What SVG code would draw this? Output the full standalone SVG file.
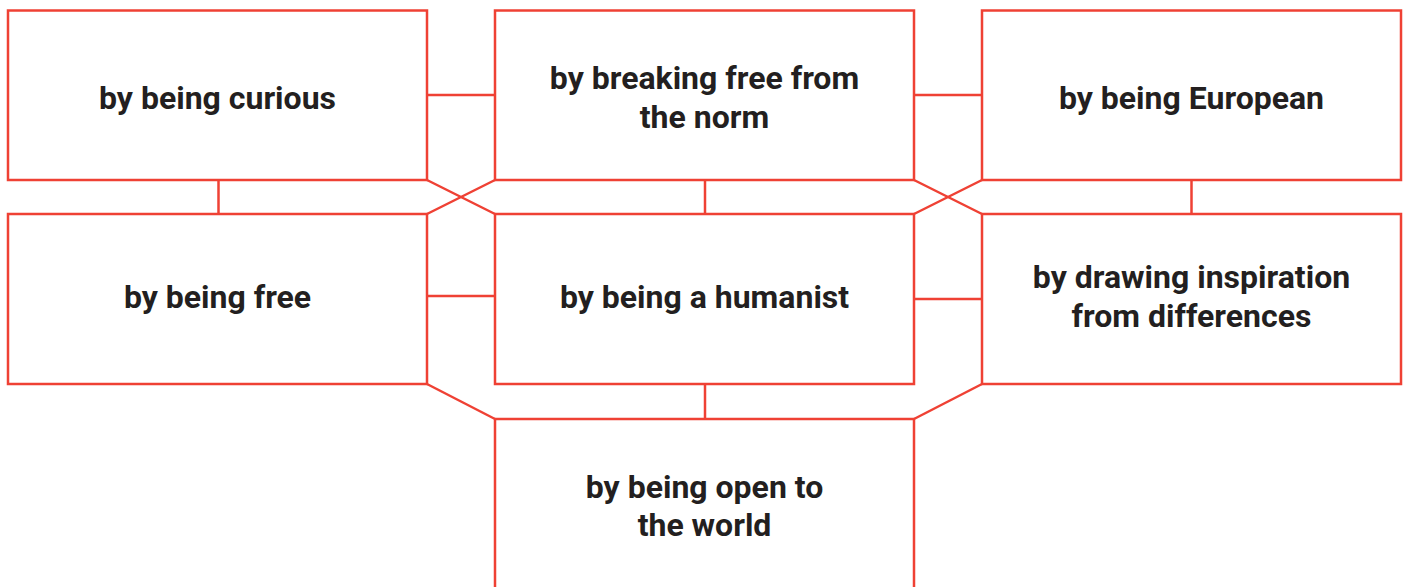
<svg xmlns="http://www.w3.org/2000/svg" width="1409" height="587" viewBox="0 0 1409 587">
  <style>
    .box { fill: #ffffff; stroke: #ef4134; stroke-width: 2.5; }
    .link { fill: none; stroke: #ef4134; stroke-width: 2.5; }
    .label { font-family: Roboto, "Liberation Sans", sans-serif; font-weight: 700; font-size: 32px; fill: #231f20; text-anchor: middle; }
  </style>
  <rect width="1409" height="587" fill="#ffffff"/>

  <!-- connectors -->
  <g id="connectors">
    <line class="link" x1="427" y1="95" x2="495" y2="95"/>
    <line class="link" x1="914" y1="95" x2="982" y2="95"/>
    <line class="link" x1="218.5" y1="180" x2="218.5" y2="214"/>
    <line class="link" x1="705" y1="180" x2="705" y2="214"/>
    <line class="link" x1="1191.5" y1="180" x2="1191.5" y2="214"/>
    <line class="link" x1="427" y1="180" x2="495" y2="214"/>
    <line class="link" x1="495" y1="180" x2="427" y2="214"/>
    <line class="link" x1="914" y1="180" x2="982" y2="214"/>
    <line class="link" x1="982" y1="180" x2="914" y2="214"/>
    <line class="link" x1="427" y1="296" x2="495" y2="296"/>
    <line class="link" x1="914" y1="299" x2="982" y2="299"/>
    <line class="link" x1="705" y1="384" x2="705" y2="419"/>
    <line class="link" x1="427" y1="384" x2="495" y2="419"/>
    <line class="link" x1="982" y1="384" x2="914" y2="419"/>
  </g>

  <g id="node-curious">
    <rect class="box" x="8" y="10.5" width="419" height="169.5"/>
    <text class="label" x="217.5" y="109">by being curious</text>
  </g>
  <g id="node-breaking-free">
    <rect class="box" x="495" y="10.5" width="419" height="169.5"/>
    <text class="label" x="704.5" y="89">by breaking free from</text>
    <text class="label" x="704.5" y="128">the norm</text>
  </g>
  <g id="node-european">
    <rect class="box" x="982" y="10.5" width="419" height="169.5"/>
    <text class="label" x="1191.5" y="109">by being European</text>
  </g>
  <g id="node-free">
    <rect class="box" x="8" y="214" width="419" height="170"/>
    <text class="label" x="217.5" y="308">by being free</text>
  </g>
  <g id="node-humanist">
    <rect class="box" x="495" y="214" width="419" height="170"/>
    <text class="label" x="704.5" y="308">by being a humanist</text>
  </g>
  <g id="node-differences">
    <rect class="box" x="982" y="214" width="419" height="170"/>
    <text class="label" x="1191.5" y="288">by drawing inspiration</text>
    <text class="label" x="1191.5" y="327">from differences</text>
  </g>
  <g id="node-open-world">
    <rect class="box" x="495" y="419" width="419" height="190"/>
    <text class="label" x="704.5" y="498">by being open to</text>
    <text class="label" x="704.5" y="536">the world</text>
  </g>
</svg>
